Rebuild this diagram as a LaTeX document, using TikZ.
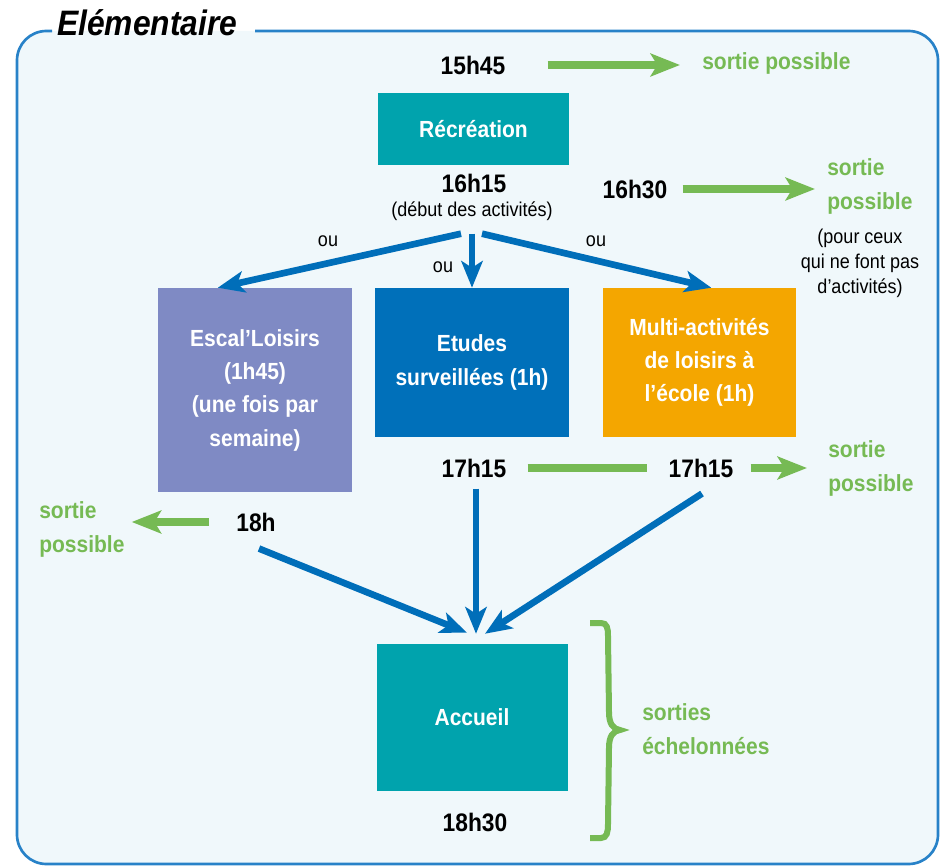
\documentclass[tikz,border=0pt]{standalone}
\usepackage{fontspec}
\setmainfont{Liberation Sans}[FakeStretch=0.9]
\usetikzlibrary{arrows.meta,calc}

\definecolor{bgblue}{RGB}{240,248,251}
\definecolor{framecol}{RGB}{40,130,200}
\definecolor{tealbox}{RGB}{0,163,173}
\definecolor{etudesblue}{RGB}{0,112,186}
\definecolor{arrowblue}{RGB}{0,110,185}
\definecolor{escalpurple}{RGB}{127,138,196}
\definecolor{multiorange}{RGB}{244,166,0}
\definecolor{sortiegreen}{RGB}{118,186,84}

\newcommand{\timefont}{\fontsize{19}{25.5}\selectfont\bfseries}
\newcommand{\sortiefont}{\fontsize{17.5}{25.5}\selectfont\bfseries}
\newcommand{\boxfont}{\fontsize{17.5}{25}\selectfont\bfseries}
\newcommand{\petitfont}{\fontsize{15}{18.75}\selectfont}

\begin{document}
\begin{tikzpicture}[x=0.75pt,y=-0.75pt,
  box/.style={fill=#1,text=white,font=\boxfont,align=center,inner sep=0pt},
  time/.style={font=\timefont,inner sep=0pt},
  sortie/.style={font=\sortiefont,text=sortiegreen,align=left,inner sep=0pt},
  petit/.style={font=\petitfont,align=center,inner sep=0pt},
  bluearrow/.style={draw=arrowblue,line width=5pt,-{Stealth[length=20pt,width=16pt,inset=5pt]}},
  greenarrow/.style={draw=sortiegreen,line width=6pt,-{Stealth[length=22pt,width=17pt,inset=5pt]}}]
\useasboundingbox (0,0) rectangle (943,866);

%Shape: Frame
\fill [bgblue, rounded corners=22pt] (17,31) rectangle (938,864) ;
\draw [framecol, line width=2pt, rounded corners=22pt] (255,31) -- (938,31) -- (938,864) -- (17,864) -- (17,31) -- (52,31) ;

% Text Node
\node [anchor=base west, inner sep=0pt, font=\fontsize{26.5}{30}\selectfont\bfseries\itshape] (titre) at (57,36) {Elémentaire};

%Shape: Rectangle
\node [box=tealbox, minimum width=143.25pt, minimum height=54pt] (recre) at (473.5,129) {Récréation};
%Shape: Rectangle
\node [box=escalpurple, minimum width=145.5pt, minimum height=153pt] (escal) at (255,390) {Escal'Loisirs\\(1h45)\\(une fois par\\semaine)};
%Shape: Rectangle
\node [box=etudesblue, minimum width=145.5pt, minimum height=111.75pt] (etudes) at (472,362.5) {Etudes\\surveillées (1h)};
%Shape: Rectangle
\node [box=multiorange, minimum width=144.75pt, minimum height=111.75pt] (multi) at (699.5,362.5) {Multi-activités\\de loisirs à\\l'école (1h)};
%Shape: Rectangle
\node [box=tealbox, minimum width=143.25pt, minimum height=110.25pt] (accueil) at (472,717.5) {Accueil};

% Text Node
\node [time] (t1545) at (473,65) {15h45};
\node [sortie, anchor=west] (sortie1) at (702,63) {sortie possible};
% Text Node
\node [time] (t1615) at (474,183) {16h15};
\node [petit] (debut) at (472,211) {(début des activités)};
% Text Node
\node [time] (t1630) at (635,189) {16h30};
\node [sortie, anchor=west] (sortie2) at (827,186) {sortie\\possible};
\node [petit] (pourceux) at (860,263) {(pour ceux\\qui ne font pas\\d'activités)};
% Text Node
\node [petit] (ou1) at (328,241) {ou};
\node [petit] (ou2) at (443,267) {ou};
\node [petit] (ou3) at (596,241) {ou};
% Text Node
\node [time] (t1715a) at (474,468) {17h15};
\node [time] (t1715b) at (701,468) {17h15};
\node [sortie, anchor=west] (sortie3) at (828,468) {sortie\\possible};
% Text Node
\node [time] (t18h) at (256,522) {18h};
\node [sortie, anchor=west] (sortie4) at (39,529) {sortie\\possible};
% Text Node
\node [time] (t1830) at (475,822) {18h30};
\node [sortie, anchor=west] (echelon) at (642,729) {sorties\\échelonnées};

%Straight Lines
\draw [greenarrow] ($(t1545.east)+(42,0)$) -- ($(t1545.east -| sortie1.west)+(-22,0)$) ;
\draw [greenarrow] ($(t1630.east)+(15,0)$) -- ($(t1630.east -| sortie2.west)+(-12,0)$) ;
\draw [sortiegreen, line width=6pt] ($(t1715a.east)+(21,0)$) -- ($(t1715b.west)+(-21,0)$) ;
\draw [greenarrow] ($(t1715b.east)+(17,0)$) -- ($(t1715b.east -| sortie3.west)+(-21,0)$) ;
\draw [greenarrow] ($(t18h.west)+(-27,0)$) -- ($(t18h.west -| sortie4.east)+(7,0)$) ;

%Straight Lines
\draw [bluearrow] ($(debut.south)+(-11,13)$) -- (escal.110) ;
\draw [bluearrow] ($(debut.south)+(0,13)$) -- (etudes.north) ;
\draw [bluearrow] ($(debut.south)+(10,13)$) -- (multi.81) ;
%Straight Lines
\draw [bluearrow] ($(t18h.south)+(3,17)$) -- ($(accueil.north)+(-5,-11)$) ;
\draw [bluearrow] ($(t1715a.south)+(2,11)$) -- ($(accueil.north)+(4,-10)$) ;
\draw [bluearrow] ($(t1715b.south)+(1,16)$) -- ($(accueil.north)+(13,-10)$) ;

%Curve Lines
\draw [sortiegreen, line width=4.5pt] (590,623) -- (601,623) .. controls (607,623) and (608,628) .. (608,636) -- (609,712) .. controls (609,724) and (613,729) .. (620,730) .. controls (613,731) and (609,736) .. (609,748) -- (608,824) .. controls (608,832) and (607,838) .. (601,838) -- (590,838) ;

\end{tikzpicture}
\end{document}
